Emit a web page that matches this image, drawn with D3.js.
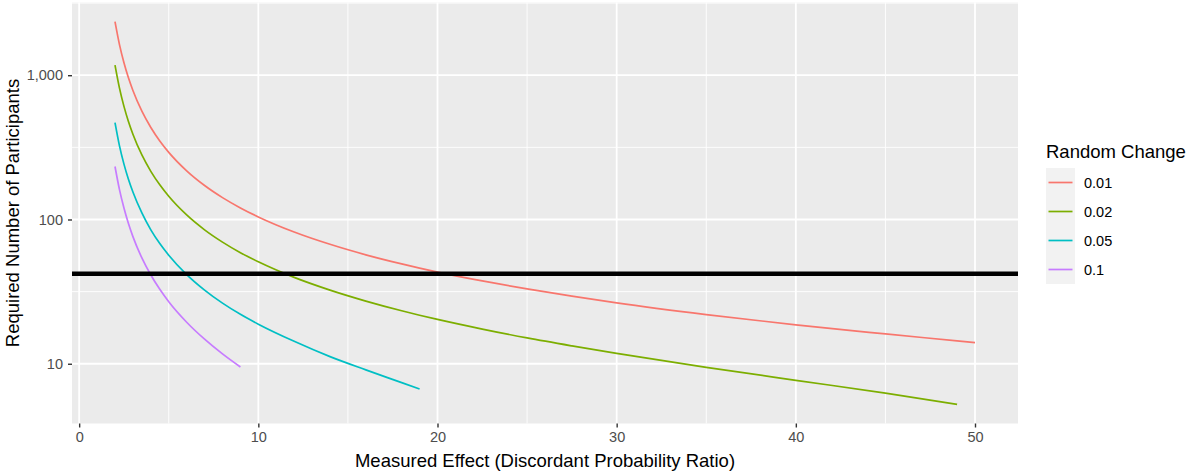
<!DOCTYPE html>
<html>
<head>
<meta charset="utf-8">
<script src="https://cdn.jsdelivr.net/npm/d3@7"></script>
<style>
  html, body { margin: 0; padding: 0; background: #ffffff; }
  svg { display: block; font-family: "Liberation Sans", Arial, sans-serif; }
</style>
</head>
<body>
<svg id="chart" width="1189" height="471"></svg>
<script>
// Discordant probability ratios at which the required sample size was evaluated
const ratios = [2, 2.25, 2.5, 2.75, 3, 3.5, 4, 4.5, 5, 6, 7, 8, 9, 10, 12, 14, 16, 18, 19, 20,
                22.5, 25, 27.5, 30, 35, 40, 45, 49, 50];

// Required number of participants, one array per random-change level
const n001 = [2352, 1630, 1219, 959, 783, 563, 434, 350, 292, 217.4, 172.0, 141.8, 120.3, 104.2,
              81.9, 67.3, 56.9, 49.2, 46.0, 43.2, 37.5, 33.0, 29.4, 26.4, 21.9, 18.6, 16.1, 14.4, 14.0];
const n002 = [1175, 814, 608, 478, 390, 280, 215.7, 173.8, 144.8, 107.5, 84.8, 69.7, 58.9, 50.9,
              39.7, 32.4, 27.2, 23.3, 21.7, 20.3, 17.4, 15.1, 13.3, 11.8, 9.45, 7.68, 6.26, 5.23];
const n005 = [469, 324, 242, 190, 155, 111, 84.8, 68.1, 56.5, 41.5, 32.4, 26.3, 22.0, 18.8,
              14.3, 11.2, 9.07, 7.40, 6.68];
const n010 = [233, 161, 120, 93.7, 76.1, 54.1, 41.2, 32.8, 26.9, 19.4, 14.8, 11.7, 9.49];

const seriesNames = ["0.01", "0.02", "0.05", "0.1"];
const seriesValues = [n001, n002, n005, n010];
const seriesColors = ["#F8766D", "#7CAE00", "#00BFC4", "#C77CFF"];

// Available participants (horizontal reference line)
const available = 42;

const xTicks = [0, 10, 20, 30, 40, 50];
const xMinor = [5, 15, 25, 35, 45];
const yTicks = [10, 100, 1000];

const legendTitle = "Random Change";
const xTitle = "Measured Effect (Discordant Probability Ratio)";
const yTitle = "Required Number of Participants";

const series = seriesNames.map((name, i) => ({
  name,
  color: seriesColors[i],
  points: seriesValues[i].map((v, j) => ({ x: ratios[j], y: v }))
}));

const panel = { left: 72, right: 1018, top: 2.5, bottom: 423.5 };

// ggplot-style 5% expansion of the data range
const allX = series.flatMap(s => s.points.map(p => p.x));
const allY = series.flatMap(s => s.points.map(p => p.y));
const [x0, x1] = d3.extent(allX);
const xPad = (x1 - x0) * 0.05;
const [ly0, ly1] = d3.extent(allY).map(Math.log10);
const yPad = (ly1 - ly0) * 0.05;

const x = d3.scaleLinear().domain([x0 - xPad, x1 + xPad]).range([panel.left, panel.right]);
const y = d3.scaleLog().domain([Math.pow(10, ly0 - yPad), Math.pow(10, ly1 + yPad)])
  .range([panel.bottom, panel.top]);

const svg = d3.select("#chart");

// panel background
svg.append("rect")
  .attr("x", panel.left).attr("y", panel.top)
  .attr("width", panel.right - panel.left).attr("height", panel.bottom - panel.top)
  .attr("fill", "#EBEBEB");

const grid = svg.append("g");
// minor gridlines
const yMinor = [];
for (let k = -1; k <= 4; k++) {
  const v = Math.pow(10, k + 0.5);
  const [d0, d1] = y.domain();
  if (v > d0 && v < d1) yMinor.push(v);
}
grid.selectAll("line.ymin").data(yMinor).join("line")
  .attr("x1", panel.left).attr("x2", panel.right)
  .attr("y1", d => y(d)).attr("y2", d => y(d))
  .attr("stroke", "#ffffff").attr("stroke-width", 0.9);
grid.selectAll("line.xmin").data(xMinor).join("line")
  .attr("y1", panel.top).attr("y2", panel.bottom)
  .attr("x1", d => x(d)).attr("x2", d => x(d))
  .attr("stroke", "#ffffff").attr("stroke-width", 0.9);
// major gridlines
grid.selectAll("line.ymaj").data(yTicks).join("line")
  .attr("x1", panel.left).attr("x2", panel.right)
  .attr("y1", d => y(d)).attr("y2", d => y(d))
  .attr("stroke", "#ffffff").attr("stroke-width", 1.8);
grid.selectAll("line.xmaj").data(xTicks).join("line")
  .attr("y1", panel.top).attr("y2", panel.bottom)
  .attr("x1", d => x(d)).attr("x2", d => x(d))
  .attr("stroke", "#ffffff").attr("stroke-width", 1.8);

// curves
const line = d3.line().x(d => x(d.x)).y(d => y(d.y)).curve(d3.curveMonotoneX);
svg.append("g").selectAll("path").data(series).join("path")
  .attr("d", d => line(d.points))
  .attr("fill", "none")
  .attr("stroke", d => d.color)
  .attr("stroke-width", 1.7);

// available participants line
svg.append("line")
  .attr("x1", panel.left).attr("x2", panel.right)
  .attr("y1", y(available)).attr("y2", y(available))
  .attr("stroke", "#000000").attr("stroke-width", 4.5);

// axes
const xAxis = d3.axisBottom(x).tickValues(xTicks).tickSize(4).tickPadding(4).tickFormat(d3.format("d"));
const gx = svg.append("g").attr("transform", `translate(0,${panel.bottom})`).call(xAxis);
gx.select(".domain").remove();
gx.selectAll(".tick line").attr("stroke", "#333333").attr("stroke-width", 1.4);
gx.selectAll(".tick text").attr("fill", "#4D4D4D").attr("font-size", "14.5px")
  .attr("font-family", "Liberation Sans, Arial, sans-serif");

const yAxis = d3.axisLeft(y).tickValues(yTicks).tickSize(4).tickPadding(5).tickFormat(d3.format(","));
const gy = svg.append("g").attr("transform", `translate(${panel.left},0)`).call(yAxis);
gy.select(".domain").remove();
gy.selectAll(".tick line").attr("stroke", "#333333").attr("stroke-width", 1.4);
gy.selectAll(".tick text").attr("fill", "#4D4D4D").attr("font-size", "14.5px")
  .attr("font-family", "Liberation Sans, Arial, sans-serif");

// axis titles
svg.append("text")
  .attr("x", (panel.left + panel.right) / 2).attr("y", 466.5)
  .attr("text-anchor", "middle").attr("font-size", "18.5px").attr("fill", "#000")
  .text(xTitle);
svg.append("text")
  .attr("transform", `translate(18.5,${(panel.top + panel.bottom) / 2}) rotate(-90)`)
  .attr("text-anchor", "middle").attr("font-size", "18.5px").attr("fill", "#000")
  .text(yTitle);

// legend
const legend = svg.append("g").attr("transform", "translate(1046,0)");
legend.append("text").attr("x", 0).attr("y", 158)
  .attr("font-size", "18.5px").attr("fill", "#000").text(legendTitle);
const keyH = 29, keyW = 29, keyTop = 168;
const keys = legend.selectAll("g.key").data(series).join("g")
  .attr("transform", (d, i) => `translate(0,${keyTop + i * keyH})`);
keys.append("rect").attr("width", keyW).attr("height", keyH).attr("fill", "#F2F2F2");
keys.append("line").attr("x1", 2.5).attr("x2", keyW - 2.5)
  .attr("y1", keyH / 2).attr("y2", keyH / 2)
  .attr("stroke", d => d.color).attr("stroke-width", 1.7);
keys.append("text").attr("x", 38).attr("y", keyH / 2 + 5)
  .attr("font-size", "14.5px").attr("fill", "#000").text(d => d.name);
</script>
</body>
</html>
